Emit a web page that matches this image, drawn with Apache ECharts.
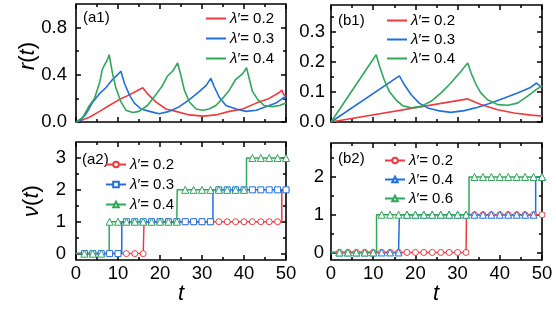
<!DOCTYPE html>
<html><head><meta charset="utf-8">
<script src="https://cdn.jsdelivr.net/npm/echarts@6/dist/echarts.min.js"></script>
<style>html,body{margin:0;padding:0;background:#fff}#c{width:556px;height:316px}</style>
</head><body><div id="c"></div>
<script>
// ---------- data ----------
const xMajor = [0, 10, 20, 30, 40, 50];
const xMinor = [5, 15, 25, 35, 45];
const a1YTicks = [0, 0.4, 0.8];
const b1YTicks = [0, 0.1, 0.2, 0.3];
const a2YTicks = [0, 1, 2, 3];
const b2YTicks = [0, 1, 2];

const a1Lambda = ['0.2', '0.3', '0.4'];
const b1Lambda = ['0.2', '0.3', '0.4'];
const a2Lambda = ['0.2', '0.3', '0.4'];
const b2Lambda = ['0.2', '0.4', '0.6'];

// r(t), panel (a1)
const a1Red = [[0,0],[1,0.01],[3.2,0.04],[5.6,0.09],[7.9,0.14],[10.3,0.19],[12.7,0.23],[14.3,0.26],[15.9,0.29],[17,0.24],[19,0.17],[21.4,0.11],[23.8,0.09],[27,0.06],[30.2,0.05],[33.3,0.06],[36.5,0.09],[39.7,0.11],[42.9,0.16],[46,0.2],[48.4,0.25],[49,0.27],[49.5,0.23],[50,0.22]];
const a1Blue = [[0,0],[1,0.01],[2.4,0.07],[4,0.17],[5.6,0.24],[7.1,0.29],[8.7,0.36],[9.9,0.40],[10.7,0.43],[11.5,0.33],[12.7,0.23],[13.9,0.16],[15.5,0.11],[17.5,0.09],[19.8,0.07],[22.2,0.09],[24.6,0.13],[27,0.19],[29.4,0.26],[31,0.31],[32.1,0.37],[32.9,0.30],[34.1,0.21],[35.7,0.14],[38.1,0.11],[40.5,0.09],[42.9,0.10],[45.2,0.13],[47.6,0.16],[49.6,0.21],[50,0.2]];
const a1Green = [[0,0],[0.4,0],[1.6,0.04],[3.2,0.14],[4.4,0.2],[5.6,0.33],[6.3,0.45],[7.5,0.53],[7.9,0.57],[8.7,0.41],[9.5,0.29],[10.7,0.17],[11.9,0.10],[13.5,0.08],[15,0.09],[17,0.14],[19,0.23],[20.6,0.31],[21.8,0.39],[23,0.43],[24.2,0.5],[25,0.39],[25.8,0.27],[27,0.17],[28.6,0.11],[30.2,0.10],[31.7,0.11],[33.3,0.14],[34.9,0.2],[36.5,0.27],[38,0.36],[39.7,0.41],[40.6,0.46],[41.3,0.36],[42,0.26],[43.3,0.19],[44.8,0.14],[46.8,0.13],[48.4,0.14],[50,0.16]];

// r(t), panel (b1)
const b1Red = [[0,0],[32.4,0.077],[35.5,0.058],[39.5,0.041],[43.4,0.03],[47.4,0.023],[50,0.02]];
const b1Blue = [[0,0],[16.2,0.154],[17.4,0.124],[19,0.091],[20.9,0.063],[22.9,0.047],[25.3,0.038],[28.4,0.032],[31.6,0.038],[34.8,0.049],[37.9,0.063],[41.1,0.08],[44.2,0.097],[47.4,0.116],[48.7,0.13],[50,0.114]];
const b1Green = [[0,0],[10.7,0.224],[11.5,0.186],[12.6,0.141],[13.8,0.102],[15.4,0.074],[17,0.054],[19,0.047],[21.3,0.052],[23.7,0.069],[26.1,0.097],[28.4,0.13],[30.8,0.169],[32.4,0.197],[33.2,0.163],[34.4,0.124],[35.5,0.097],[37.1,0.074],[39.5,0.058],[41.9,0.056],[44.2,0.063],[46.6,0.086],[48.6,0.108],[50,0.12]];

// nu(t): marker times and levels, and jump times
const markT = [2,4,6,8,10,12,14,16,18,20,22,24,26,28,30,32,34,36,38,40,42,44,46,48,50];
const a2RedLv   = [0,0,0,0,0,0,0,0,1,1,1,1,1,1,1,1,1,1,1,1,1,1,1,1,2];
const a2BlueLv  = [0,0,0,0,0,1,1,1,1,1,1,1,1,1,1,1,2,2,2,2,2,2,2,2,2];
const a2GreenLv = [0,0,0,1,1,1,1,1,1,1,1,1,2,2,2,2,2,2,2,2,3,3,3,3,3];
const b2RedLv   = [0,0,0,0,0,0,0,0,0,0,0,0,0,0,0,0,1,1,1,1,1,1,1,1,1];
const b2BlueLv  = [0,0,0,0,0,0,0,0,1,1,1,1,1,1,1,1,1,1,1,1,1,1,1,1,2];
const b2GreenLv = [0,0,0,0,0,1,1,1,1,1,1,1,1,1,1,1,2,2,2,2,2,2,2,2,2];
const a2RedJumps = [16.2, 49];
const a2BlueJumps = [10.9, 32.6];
const a2GreenJumps = [7.9, 24.1, 40.6];
const b2RedJumps = [32.1];
const b2BlueJumps = [16.2, 48.5];
const b2GreenJumps = [10.8, 32.7];

// ---------- styling ----------
const RED = '#f03a3e', BLUE = '#1f6fe0', GREEN = '#2fa85a';
const FONT = '"Liberation Sans", Arial, Helvetica, sans-serif';
const GRIDS = [
  {left: 76, top: 4, width: 210, height: 118},
  {left: 331, top: 5, width: 211, height: 117},
  {left: 76, top: 142, width: 210, height: 118},
  {left: 331, top: 143, width: 211, height: 117}
];
const YR = [[0, 1.0], [0, 0.39], [-0.2, 3.5], [-0.2, 2.9]];
const YMAJ = [a1YTicks, b1YTicks, a2YTicks, b2YTicks];
const YMIN = [[0.2, 0.6], [0.05, 0.15, 0.25, 0.35], [0.5, 1.5, 2.5], [0.5, 1.5, 2.5]];
const YFMT = [v => v.toFixed(1), v => v.toFixed(1), v => String(Math.round(v)), v => String(Math.round(v))];
const YMARGIN = [9, 6, 10, 7];

const tickStyle = {color: '#000', width: 1.5};
function axis(dim, g, pos, min, max, vals, len, labels, fmt, margin) {
  return {
    type: 'value', gridIndex: g, position: pos, min: min, max: max,
    axisLine: {show: false, onZero: false},
    splitLine: {show: false},
    axisTick: {show: true, inside: true, length: len, customValues: vals, lineStyle: tickStyle},
    axisLabel: labels ? {show: true, customValues: vals, formatter: fmt, color: '#000',
      fontSize: 18.5, fontFamily: FONT, margin: margin} : {show: false}
  };
}
const xAxes = [], yAxes = [];
for (let g = 0; g < 4; g++) {
  const lab = g >= 2;
  xAxes.push(axis('x', g, 'bottom', 0, 50, xMajor, 5, lab, v => String(Math.round(v)), 4));
  xAxes.push(axis('x', g, 'bottom', 0, 50, xMinor, 3, false));
  xAxes.push(axis('x', g, 'top', 0, 50, xMajor, 5, false));
  xAxes.push(axis('x', g, 'top', 0, 50, xMinor, 3, false));
  yAxes.push(axis('y', g, 'left', YR[g][0], YR[g][1], YMAJ[g], 5, true, YFMT[g], YMARGIN[g]));
  yAxes.push(axis('y', g, 'left', YR[g][0], YR[g][1], YMIN[g], 3, false));
  yAxes.push(axis('y', g, 'right', YR[g][0], YR[g][1], YMAJ[g], 5, false));
  yAxes.push(axis('y', g, 'right', YR[g][0], YR[g][1], YMIN[g], 3, false));
}

const labelMap = {};
function curve(name, lam, g, color, data) {
  labelMap[name] = '{i|λ}′= ' + lam;
  return {type: 'line', name: name, xAxisIndex: g * 4, yAxisIndex: g * 4, data: data,
    symbol: 'none', showSymbol: false, color: color,
    lineStyle: {color: color, width: 1.6}, z: 3};
}
function stepData(jumps, lv) {
  const pts = [{value: [0, 0], symbol: 'none'}];
  let level = 0;
  jumps.forEach(j => {
    pts.push({value: [j, level], symbol: 'none'});
    level++;
    pts.push({value: [j, level], symbol: 'none'});
  });
  pts.push({value: [50, level], symbol: 'none'});
  markT.forEach((t, i) => pts.push({value: [t, lv[i]]}));
  pts.sort((a, b) => a.value[0] - b.value[0]);
  return pts;
}
function steps(name, lam, g, color, symbol, jumps, lv) {
  labelMap[name] = '{i|λ}′= ' + lam;
  return {type: 'line', name: name, xAxisIndex: g * 4, yAxisIndex: g * 4,
    data: stepData(jumps, lv), symbol: symbol, symbolSize: symbol === 'triangle' ? 7 : 6,
    showSymbol: true, showAllSymbol: true, color: color,
    lineStyle: {color: color, width: 1.5},
    itemStyle: {color: '#fff', borderColor: color, borderWidth: 1}, z: 3};
}

const series = [
  curve('a1r', a1Lambda[0], 0, RED, a1Red),
  curve('a1b', a1Lambda[1], 0, BLUE, a1Blue),
  curve('a1g', a1Lambda[2], 0, GREEN, a1Green),
  curve('b1r', b1Lambda[0], 1, RED, b1Red),
  curve('b1b', b1Lambda[1], 1, BLUE, b1Blue),
  curve('b1g', b1Lambda[2], 1, GREEN, b1Green),
  steps('a2r', a2Lambda[0], 2, RED, 'circle', a2RedJumps, a2RedLv),
  steps('a2b', a2Lambda[1], 2, BLUE, 'rect', a2BlueJumps, a2BlueLv),
  steps('a2g', a2Lambda[2], 2, GREEN, 'triangle', a2GreenJumps, a2GreenLv),
  steps('b2r', b2Lambda[0], 3, RED, 'circle', b2RedJumps, b2RedLv),
  steps('b2b', b2Lambda[1], 3, BLUE, 'triangle', b2BlueJumps, b2BlueLv),
  steps('b2g', b2Lambda[2], 3, GREEN, 'triangle', b2GreenJumps, b2GreenLv)
];

function legend(names, left, top, gap, lineOnly) {
  const l = {data: names, left: left, top: top, orient: 'vertical', itemGap: gap,
    itemWidth: 20, itemHeight: lineOnly ? 2 : 7, padding: 0, selectedMode: false,
    formatter: n => labelMap[n],
    textStyle: {fontSize: 15, color: '#000', fontFamily: FONT, padding: [0, 0, 0, -1],
      rich: {i: {fontStyle: 'italic', fontSize: 15, color: '#000', fontFamily: FONT}}}};
  if (lineOnly) l.icon = 'rect';
  return l;
}

function txt(x, y, text, size, rot, align) {
  return {type: 'text', x: x, y: y, rotation: rot || 0,
    style: {text: text, fontSize: size, fontFamily: FONT, fill: '#000',
      align: align || 'left', verticalAlign: 'middle',
      rich: {i: {fontStyle: 'italic', fontSize: size, fontFamily: FONT, fill: '#000'}}}};
}

const option = {
  animation: false,
  backgroundColor: '#fff',
  grid: GRIDS.map(g => Object.assign({show: true, borderColor: '#000', borderWidth: 1.6,
    backgroundColor: 'transparent', containLabel: false}, g)),
  xAxis: xAxes,
  yAxis: yAxes,
  legend: [
    legend(['a1r', 'a1b', 'a1g'], 206, 11, 5, true),
    legend(['b1r', 'b1b', 'b1g'], 387, 13, 4, true),
    legend(['a2r', 'a2b', 'a2g'], 105, 157, 5, false),
    legend(['b2r', 'b2b', 'b2g'], 384, 153, 4, false)
  ],
  graphic: [
    txt(83, 18, '(a1)', 15),
    txt(338, 21, '(b1)', 15),
    txt(82, 160, '(a2)', 15),
    txt(338, 159, '(b2)', 15),
    txt(28, 56, '{i|r}({i|t})', 22, Math.PI / 2, 'center'),
    txt(32, 201, '{i|ν}({i|t})', 22, Math.PI / 2, 'center'),
    txt(181, 294, '{i|t}', 22, 0, 'center'),
    txt(436, 294, '{i|t}', 22, 0, 'center')
  ],
  series: series
};
const chart = echarts.init(document.getElementById('c'), null, {renderer: 'canvas'});
chart.setOption(option);
</script></body></html>
